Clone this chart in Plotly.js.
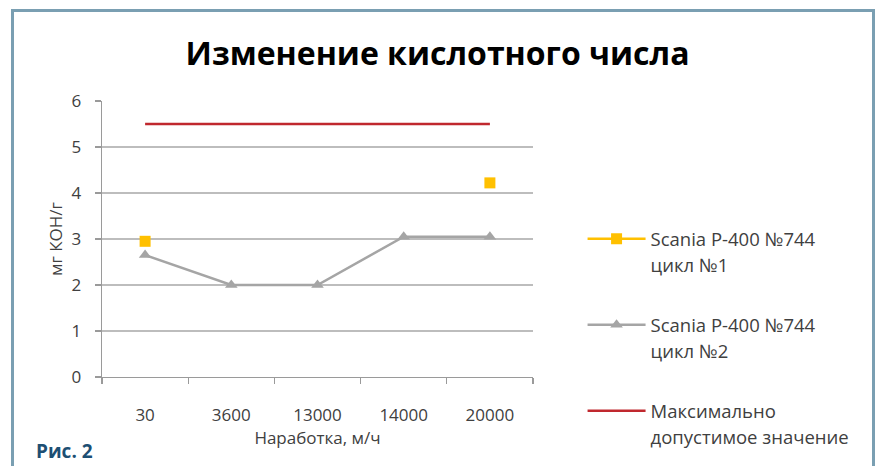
<!DOCTYPE html>
<html>
<head>
<meta charset="utf-8">
<script src="https://cdn.plot.ly/plotly-3.0.1.min.js"></script>
<style>
  html, body { margin: 0; padding: 0; background: #ffffff; }
  #wrap { position: relative; width: 875px; height: 466px; overflow: hidden; }
  #chart { position: absolute; left: 0; top: 0; width: 875px; height: 466px; }
  #frame {
    position: absolute; left: 11px; top: 9px; width: 858px; height: 470px;
    border: 3px solid #7a9fb2; border-bottom: none; pointer-events: none;
  }
</style>
</head>
<body>
<div id="wrap">
  <div id="chart"></div>
  <div id="frame"></div>
</div>
<script>
// Operating hours (categories) and acid number readings, mg KOH/g
const categories = ['30', '3600', '13000', '14000', '20000'];
const cycle1 = [2.95, null, null, null, 4.22];
const cycle2 = [2.65, 2.0, 2.0, 3.05, 3.05];
const maxAllowed = [5.5, 5.5, 5.5, 5.5, 5.5];
const yTicks = [0, 1, 2, 3, 4, 5, 6];

const seriesNames = [
  '<span style="font-size:18.5px">Scania P-400 №744</span><br><span style="font-size:18.5px">цикл №1</span>',
  '<span style="font-size:18.5px">Scania P-400 №744</span><br><span style="font-size:18.5px">цикл №2</span>',
  '<span style="font-size:18.5px">Максимально</span><br><span style="font-size:18.5px">допустимое значение</span>'
];

const font = '"Open Sans", "Noto Sans", sans-serif';

const traces = [
  {
    x: categories, y: cycle1, name: seriesNames[0], legendgroup: 'a',
    type: 'scatter', mode: 'lines+markers', connectgaps: false,
    line: { color: '#ffc000', width: 2.5 },
    marker: { symbol: 'square', size: 11, color: '#ffc000' }
  },
  {
    x: categories, y: cycle2, name: seriesNames[1], legendgroup: 'b',
    type: 'scatter', mode: 'lines+markers',
    line: { color: '#a5a5a5', width: 2.5 },
    marker: { symbol: 'triangle-up', size: 11, color: '#a5a5a5' }
  },
  {
    x: categories, y: maxAllowed, name: seriesNames[2], legendgroup: 'c',
    type: 'scatter', mode: 'lines',
    line: { color: '#c0282e', width: 2.5 }
  }
];

const layout = {
  width: 875, height: 466,
  margin: { l: 102, r: 342, t: 101, b: 89, autoexpand: false },
  paper_bgcolor: '#ffffff', plot_bgcolor: '#ffffff',
  font: { family: font, color: '#404040' },
  showlegend: true,
  title: {
    text: '<b>Изменение кислотного числа</b>',
    font: { family: font, size: 32, color: '#000000' },
    x: 0.5, xref: 'container', xanchor: 'center',
    y: 0.885, yref: 'container', yanchor: 'middle'
  },
  xaxis: {
    type: 'category', range: [-0.5, 4.5], fixedrange: true, automargin: false,
    showline: true, linecolor: '#9a9a9a', linewidth: 1.3,
    ticks: 'outside', tickson: 'boundaries', ticklen: 6, tickcolor: '#9a9a9a', tickwidth: 1.3,
    showgrid: false, zeroline: false,
    tickfont: { family: font, size: 17, color: '#404040' },
    ticklabelstandoff: 22,
    title: { text: 'Наработка, м/ч', font: { family: font, size: 17, color: '#404040' }, standoff: 6 }
  },
  yaxis: {
    range: [0, 6], tickvals: yTicks, fixedrange: true, automargin: false,
    showline: true, linecolor: '#9a9a9a', linewidth: 1.3,
    ticks: 'outside', ticklen: 6, tickcolor: '#9a9a9a', tickwidth: 1.3,
    showgrid: true, gridcolor: '#bdbdbd', gridwidth: 1.3, zeroline: false,
    tickfont: { family: font, size: 17, color: '#404040' },
    ticklabelstandoff: 10,
    title: { text: 'мг КОН/г', font: { family: font, size: 17, color: '#404040' }, standoff: 4 }
  },
  legend: {
    x: 1.115, xanchor: 'left', y: 0.572, yanchor: 'top',
    valign: 'top', tracegroupgap: 31, itemwidth: 58,
    font: { family: font, size: 20, color: '#404040' },
    bgcolor: 'rgba(0,0,0,0)'
  },
  annotations: [
    {
      text: '<b>Рис. 2</b>', xref: 'paper', yref: 'paper',
      x: (34 - 102) / 431, xanchor: 'left', y: -(451 - 377) / 276, yanchor: 'middle',
      showarrow: false, font: { family: font, size: 19, color: '#1d4f73' }
    }
  ]
};

Plotly.newPlot('chart', traces, layout, { displayModeBar: false, staticPlot: true });
</script>
</body>
</html>
